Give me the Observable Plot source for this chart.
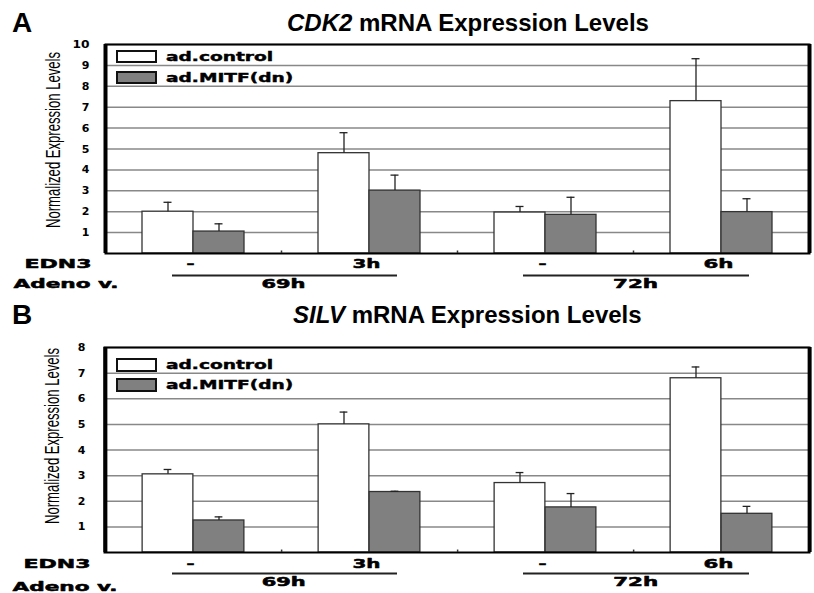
<!DOCTYPE html>
<html><head><meta charset="utf-8">
<script src="https://cdn.jsdelivr.net/npm/d3@7"></script>
<script src="https://cdn.jsdelivr.net/npm/@observablehq/plot@0.6"></script>
<style>
body{margin:0;background:#fff;}
#root{position:relative;width:814px;height:593px;overflow:hidden;font-family:"Liberation Sans",Arial,sans-serif;}
.abs{position:absolute;white-space:nowrap;color:#000;}
.letter{font-weight:bold;font-size:28px;line-height:28px;}
.title{font-weight:bold;font-size:24px;line-height:24px;}
.swatch{position:absolute;box-sizing:border-box;border:2px solid #111;}
.leg{position:absolute;white-space:nowrap;font-family:"DejaVu Sans";font-weight:bold;font-size:12px;line-height:12px;transform-origin:left center;transform:scaleX(1.55);-webkit-text-stroke:0.4px #000;}
svg{position:absolute;left:0;}
</style></head><body><div id="root"></div>
<script>
// ---- data ----
const groups = ["69h / EDN3 -", "69h / EDN3 3h", "72h / EDN3 -", "72h / EDN3 6h"];
const edn3Labels = ["–", "3h", "–", "6h"];
const adenoLabels = ["69h", "72h"];
const seriesNames = ["ad.control", "ad.MITF(dn)"];
const seriesColors = ["#ffffff", "#808080"];

const cdk2Control = [2.0, 4.8, 1.96, 7.29];
const cdk2ControlErr = [0.45, 0.98, 0.29, 2.03];
const cdk2Mitf = [1.05, 3.01, 1.85, 1.98];
const cdk2MitfErr = [0.37, 0.74, 0.84, 0.64];
const cdk2Ticks = [1, 2, 3, 4, 5, 6, 7, 8, 9, 10];

const silvControl = [3.05, 5.0, 2.71, 6.8];
const silvControlErr = [0.19, 0.48, 0.41, 0.44];
const silvMitf = [1.25, 2.36, 1.76, 1.51];
const silvMitfErr = [0.14, 0.03, 0.54, 0.29];
const silvTicks = [1, 2, 3, 4, 5, 6, 7, 8];

const yLabel = "Normalized Expression Levels";

// ---- drawing ----
const W = 814;
const textWidths = {"EDN3": 67, "Adeno v.": 105, "69h": 44, "72h": 45, "3h": 28, "6h": 30, "–": 8, "10": 17, [yLabel]: 176};

function panel(o) {
  const mr = 5;
  const band = (W - o.ml - mr) / groups.length;
  const half = band / 2;
  const barW = 51;
  const rows = [];
  groups.forEach((g, i) => {
    rows.push({group: g, series: seriesNames[0], value: o.control[i], hi: o.control[i] + o.controlErr[i]});
    rows.push({group: g, series: seriesNames[1], value: o.mitf[i], hi: o.mitf[i] + o.mitfErr[i]});
  });
  const ctl = rows.filter(d => d.series === seriesNames[0]);
  const mit = rows.filter(d => d.series === seriesNames[1]);
  const cap = 4;
  const heavy = {fontWeight: "bold", fill: "#000", stroke: "#000", strokeWidth: 0.5};
  const svg = Plot.plot({
    width: W, height: o.height,
    marginTop: o.mt, marginBottom: o.mb, marginLeft: o.ml, marginRight: mr,
    style: {fontFamily: "DejaVu Sans", fontWeight: "bold", fontSize: "11px", background: "transparent", overflow: "visible", color: "#000"},
    x: {domain: groups, padding: 0, axis: null},
    y: {domain: [0, o.ticks[o.ticks.length - 1]], ticks: o.ticks, tickSize: 0, tickPadding: o.tickPad, label: null},
    color: {domain: seriesNames, range: seriesColors},
    marks: [
      Plot.ruleY(o.ticks, {stroke: "#888", strokeWidth: 1.5}),
      Plot.barY(ctl, {x: "group", y: "value", fill: "series", stroke: "#333", strokeWidth: 1.3, insetLeft: half - barW, insetRight: half}),
      Plot.barY(mit, {x: "group", y: "value", fill: "series", stroke: "#333", strokeWidth: 1.3, insetLeft: half, insetRight: half - barW}),
      Plot.ruleX(ctl, {x: "group", y1: "value", y2: "hi", dx: -barW / 2, stroke: "#222", strokeWidth: 1.3}),
      Plot.ruleX(mit, {x: "group", y1: "value", y2: "hi", dx: barW / 2, stroke: "#222", strokeWidth: 1.3}),
      Plot.tickY(ctl, {x: "group", y: "hi", insetLeft: half - barW / 2 - cap, insetRight: half + barW / 2 - cap, stroke: "#222", strokeWidth: 1.3}),
      Plot.tickY(mit, {x: "group", y: "hi", insetLeft: half + barW / 2 - cap, insetRight: half - barW / 2 - cap, stroke: "#222", strokeWidth: 1.3}),
      Plot.frame({stroke: "#000", strokeWidth: 2}),
      Plot.ruleX([groups[0]], {x: d => d, dx: -half, stroke: "#000", strokeWidth: 4}),
      Plot.ruleX([groups[groups.length - 1]], {x: d => d, dx: half, stroke: "#000", strokeWidth: 4}),
      Plot.ruleX(groups.slice(0, 3), {x: d => d, dx: half, y1: 0, y2: o.ticks[o.ticks.length - 1] * 0.012, stroke: "#333", strokeWidth: 1.5}),
      Plot.text(groups, {x: d => d, text: (d, i) => edn3Labels[i], frameAnchor: "bottom", dy: o.row1, dx: -3, fontSize: 13, ...heavy}),
      Plot.ruleY([0], {x1: () => groups[0], x2: () => groups[1], dy: o.line, insetLeft: 67, insetRight: 60, stroke: "#222", strokeWidth: 2}),
      Plot.ruleY([0], {x1: () => groups[2], x2: () => groups[3], dy: o.line, insetLeft: 66, insetRight: 60, stroke: "#222", strokeWidth: 2}),
      Plot.text(adenoLabels, {x: (d, i) => groups[2 * i], text: d => d, dx: half + 2, frameAnchor: "bottom", dy: o.row2, fontSize: 12, ...heavy}),
      Plot.text(["EDN3"], {frameAnchor: "bottom-left", textAnchor: "start", dx: -81, dy: o.row1, fontSize: 12, ...heavy}),
      Plot.text(["Adeno v."], {frameAnchor: "bottom-left", textAnchor: "start", dx: -92, dy: o.row3, fontSize: 12, ...heavy}),
      Plot.text([yLabel], {frameAnchor: "left", textAnchor: "middle", rotate: -90, dx: -52, dy: o.labelDy, fontFamily: "Liberation Sans Narrow, Liberation Sans, sans-serif", fontWeight: "normal", fontSize: 20})
    ]
  });
  svg.style.top = o.top + "px";
  svg.querySelectorAll("text").forEach(t => {
    const w = textWidths[t.textContent];
    if (w) { t.setAttribute("textLength", w); t.setAttribute("lengthAdjust", "spacingAndGlyphs"); }
  });
  return svg;
}

const root = document.getElementById("root");
root.appendChild(panel({top: 0, height: 300, mt: 44, mb: 47, ml: 105, tickPad: 16, labelDy: -9,
  row1: 14, line: 22, row2: 34, row3: 34,
  control: cdk2Control, controlErr: cdk2ControlErr, mitf: cdk2Mitf, mitfErr: cdk2MitfErr, ticks: cdk2Ticks}));
root.appendChild(panel({top: 300, height: 293, mt: 47, mb: 41, ml: 104, tickPad: 19, labelDy: -14,
  row1: 15, line: 21, row2: 33, row3: 38,
  control: silvControl, controlErr: silvControlErr, mitf: silvMitf, mitfErr: silvMitfErr, ticks: silvTicks}));

function add(html, cls, style) {
  const d = document.createElement("div");
  d.className = cls; d.innerHTML = html; Object.assign(d.style, style); root.appendChild(d); return d;
}
// panel letters and titles
add("A", "abs letter", {left: "12px", top: "9px"});
add("<i>CDK2</i> mRNA Expression Levels", "abs title", {left: "287px", top: "11px"});
add("B", "abs letter", {left: "12px", top: "301px"});
add("<i>SILV</i> mRNA Expression Levels", "abs title", {left: "293px", top: "303px"});
// legends
function legend(y0, y1, h) {
  add("", "swatch", {left: "116px", top: y0 + "px", width: "41px", height: h + "px", background: seriesColors[0]});
  add("", "swatch", {left: "116px", top: y1 + "px", width: "41px", height: h + "px", background: seriesColors[1]});
  add(seriesNames[0], "leg", {left: "166px", top: (y0 + h / 2 - 6) + "px"});
  add(seriesNames[1], "leg", {left: "166px", top: (y1 + h / 2 - 6) + "px"});
}
legend(50, 71, 13);
legend(358, 378, 14);
</script></body></html>
